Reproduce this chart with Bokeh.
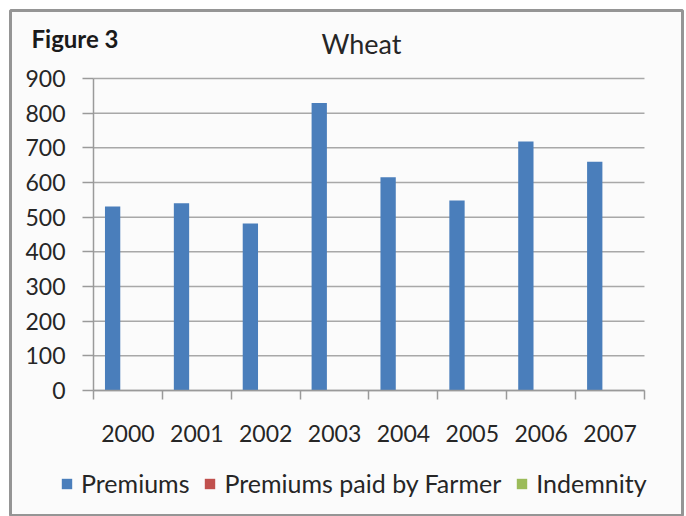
from bokeh.plotting import figure
from bokeh.models import Range1d, FixedTicker, Label, Legend, LegendItem, ColumnDataSource
from bokeh.transform import dodge
from bokeh.embed import file_html
from bokeh.resources import INLINE

years = ["2000", "2001", "2002", "2003", "2004", "2005", "2006", "2007"]
premiums = [531, 540, 482, 829, 615, 548, 718, 660]
paid_by_farmer = [0, 0, 0, 0, 0, 0, 0, 0]
indemnity = [0, 0, 0, 0, 0, 0, 0, 0]
y_ticks = [0, 100, 200, 300, 400, 500, 600, 700, 800, 900]

n = len(years)
pos = list(range(n))
src = ColumnDataSource(dict(x=pos, premiums=premiums, farmer=paid_by_farmer, indemnity=indemnity))
grid_src = ColumnDataSource(dict(y=y_ticks, x0=[-0.5] * len(y_ticks), x1=[n - 0.5] * len(y_ticks)))

FONT = "Lato"
TXT = "#262626"
GRAY = "#9a9a9a"
BW = 1 / 4.5
YMAX = y_ticks[-1]

# The frame is the whole chart box (outlined); axes sit inside it at fixed locations.
p = figure(width=684, height=516,
           x_range=Range1d(-1.705, n + 0.052), y_range=Range1d(-363.5, 1096.2),
           output_backend="svg", toolbar_location=None,
           min_border_left=10, min_border_right=2, min_border_top=10, min_border_bottom=0,
           background_fill_color="#fbfbfb", border_fill_color="#ffffff",
           outline_line_color="#959595", outline_line_width=3)

# horizontal gridlines at the y ticks, spanning only the category area
p.segment(x0="x0", x1="x1", y0="y", y1="y", source=grid_src,
          line_color="#a8a8a8", line_width=1.5, level="underlay")

r1 = p.vbar(x=dodge("x", -BW, range=p.x_range), top="premiums", width=BW, source=src,
            fill_color="#4a7ebb", line_color=None)
r2 = p.vbar(x=dodge("x", 0, range=p.x_range), top="farmer", width=BW, source=src,
            fill_color="#c0504d", line_color=None)
r3 = p.vbar(x=dodge("x", BW, range=p.x_range), top="indemnity", width=BW, source=src,
            fill_color="#9bbb59", line_color=None)

# x axis
p.xaxis.fixed_location = 0
p.xaxis.bounds = (-0.5, n - 0.5)
p.xaxis.ticker = FixedTicker(ticks=pos, minor_ticks=[i - 0.5 for i in range(n + 1)])
p.xaxis.major_label_overrides = {i: y for i, y in enumerate(years)}
p.xaxis.major_tick_out = 0
p.xaxis.major_tick_in = 0
p.xaxis.minor_tick_out = 9
p.xaxis.minor_tick_in = 0
p.xaxis.minor_tick_line_color = GRAY
p.xaxis.minor_tick_line_width = 1.5
p.xaxis.axis_line_color = GRAY
p.xaxis.axis_line_width = 1.5
p.xaxis.major_label_standoff = 26
p.xaxis.major_label_text_font = FONT
p.xaxis.major_label_text_font_size = "23px"
p.xaxis.major_label_text_color = TXT

# y axis
p.yaxis.fixed_location = -0.5
p.yaxis.bounds = (0, YMAX)
p.yaxis.ticker = FixedTicker(ticks=y_ticks)
p.yaxis.major_tick_out = 11
p.yaxis.major_tick_in = 0
p.yaxis.major_tick_line_color = GRAY
p.yaxis.major_tick_line_width = 1.5
p.yaxis.axis_line_color = GRAY
p.yaxis.axis_line_width = 1.5
p.yaxis.major_label_standoff = 17
p.yaxis.major_label_text_font = FONT
p.yaxis.major_label_text_font_size = "23px"
p.yaxis.major_label_text_color = TXT

p.xgrid.visible = False
p.ygrid.visible = False

# titles (screen units relative to the frame's bottom-left corner)
p.add_layout(Label(x=21, y=478, x_units="screen", y_units="screen", text="Figure 3",
                   text_font=FONT, text_font_style="bold", text_font_size="24px",
                   text_color="#1a1a1a", text_baseline="alphabetic"))
p.add_layout(Label(x=351, y=473, x_units="screen", y_units="screen", text="Wheat",
                   text_font=FONT, text_font_size="27px", text_color=TXT,
                   text_align="center", text_baseline="alphabetic"))

legend = Legend(items=[LegendItem(label="Premiums", renderers=[r1]),
                       LegendItem(label="Premiums paid by Farmer", renderers=[r2]),
                       LegendItem(label="Indemnity", renderers=[r3])],
                orientation="horizontal", location=(50, 18),
                glyph_width=13, glyph_height=13, label_standoff=8, spacing=14,
                padding=0, margin=0, border_line_color=None, background_fill_alpha=0,
                label_text_font=FONT, label_text_font_size="25px", label_text_color=TXT)
p.add_layout(legend)

open("out.html", "w").write(file_html(p, INLINE))
